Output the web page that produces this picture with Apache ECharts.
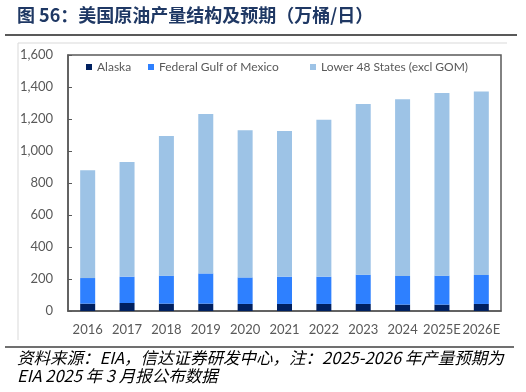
<!DOCTYPE html>
<html>
<head>
<meta charset="utf-8">
<script src="https://cdn.jsdelivr.net/npm/echarts@6/dist/echarts.min.js"></script>
<style>html,body{margin:0;padding:0;background:#fff;}#c{width:526px;height:392px;}</style>
</head>
<body>
<div id="c"></div>
<script>
var categories = ['2016','2017','2018','2019','2020','2021','2022','2023','2024','2025E','2026E'];
var alaska = [46, 50, 46, 46, 44, 44, 44, 44, 40, 40, 44];
var gulfOfMexico = [160, 165, 175, 189, 166, 171, 171, 183, 179, 181, 181];
var lower48 = [674, 716, 873, 996, 920, 910, 980, 1066, 1104, 1141, 1147];
var yTicks = [0, 200, 400, 600, 800, 1000, 1200, 1400, 1600];
var seriesNames = ['Alaska', 'Federal Gulf of Mexico', 'Lower 48 States (excl GOM)'];
var colors = ['#002060', '#2E80FF', '#9DC3E6'];

var chart = echarts.init(document.getElementById('c'), null, {renderer: 'canvas'});
var tickFont = 'Lato, "Noto Sans", sans-serif';
function legendAt(name, left) {
  return {
    data: [name], left: left, top: 61, padding: 0, icon: 'rect', itemWidth: 6, itemHeight: 6,
    textStyle: {color: '#595959', fontSize: 12, fontFamily: tickFont}, selectedMode: false
  };
}
var option = {
  animation: false,
  backgroundColor: '#fff',
  legend: [legendAt(seriesNames[0], 86), legendAt(seriesNames[1], 148), legendAt(seriesNames[2], 310)],
  grid: {left: 68, right: 25, top: 55, bottom: 81, show: true, borderColor: '#595959', borderWidth: 1.5},
  xAxis: {
    type: 'category', data: categories,
    axisLine: {lineStyle: {color: '#595959', width: 1.5}},
    axisTick: {inside: true, length: 4, lineStyle: {color: '#808080'}},
    axisLabel: {color: '#595959', fontSize: 13, fontFamily: tickFont, margin: 12, interval: 0}
  },
  yAxis: {
    type: 'value', min: yTicks[0], max: yTicks[yTicks.length - 1], interval: yTicks[1] - yTicks[0],
    axisLine: {show: true, lineStyle: {color: '#595959', width: 1.5}},
    axisTick: {show: true, inside: true, length: 4, lineStyle: {color: '#595959'}},
    splitLine: {show: false},
    axisLabel: {color: '#595959', fontSize: 13, fontFamily: tickFont, margin: 15,
      formatter: function (v) { return v.toLocaleString('en-US'); }}
  },
  series: [
    {name: seriesNames[0], type: 'bar', stack: 't', data: alaska, barWidth: 15, itemStyle: {color: colors[0]}},
    {name: seriesNames[1], type: 'bar', stack: 't', data: gulfOfMexico, barWidth: 15, itemStyle: {color: colors[1]}},
    {name: seriesNames[2], type: 'bar', stack: 't', data: lower48, barWidth: 15, itemStyle: {color: colors[2]}}
  ],
  graphic: [
    {type: 'text', left: 17, top: 6, style: {text: '图 56：美国原油产量结构及预期（万桶/日）', fill: '#1F3864',
      fontSize: 18, fontWeight: 'bold', fontFamily: '"Noto Sans CJK SC", sans-serif'}},
    {type: 'line', shape: {x1: 5, y1: 35, x2: 517, y2: 35}, style: {stroke: '#595959', lineWidth: 2}},
    {type: 'line', shape: {x1: 18, y1: 43, x2: 507, y2: 43}, style: {stroke: '#D9D9D9', lineWidth: 1}},
    {type: 'line', shape: {x1: 18, y1: 43, x2: 18, y2: 340}, style: {stroke: '#D9D9D9', lineWidth: 1}},
    {type: 'line', shape: {x1: 5, y1: 347, x2: 514, y2: 347}, style: {stroke: '#404040', lineWidth: 1.5}},
    {type: 'text', left: 17, top: 349, style: {text: '资料来源：EIA，信达证券研发中心，注：2025-2026 年产量预期为', fill: '#000',
      fontSize: 16.5, fontStyle: 'italic', fontFamily: '"Noto Sans CJK SC", sans-serif'}},
    {type: 'text', left: 17, top: 367, style: {text: 'EIA 2025 年 3 月报公布数据', fill: '#000',
      fontSize: 16.5, fontStyle: 'italic', fontFamily: '"Noto Sans CJK SC", sans-serif'}}
  ]
};
chart.setOption(option);
</script>
</body>
</html>
